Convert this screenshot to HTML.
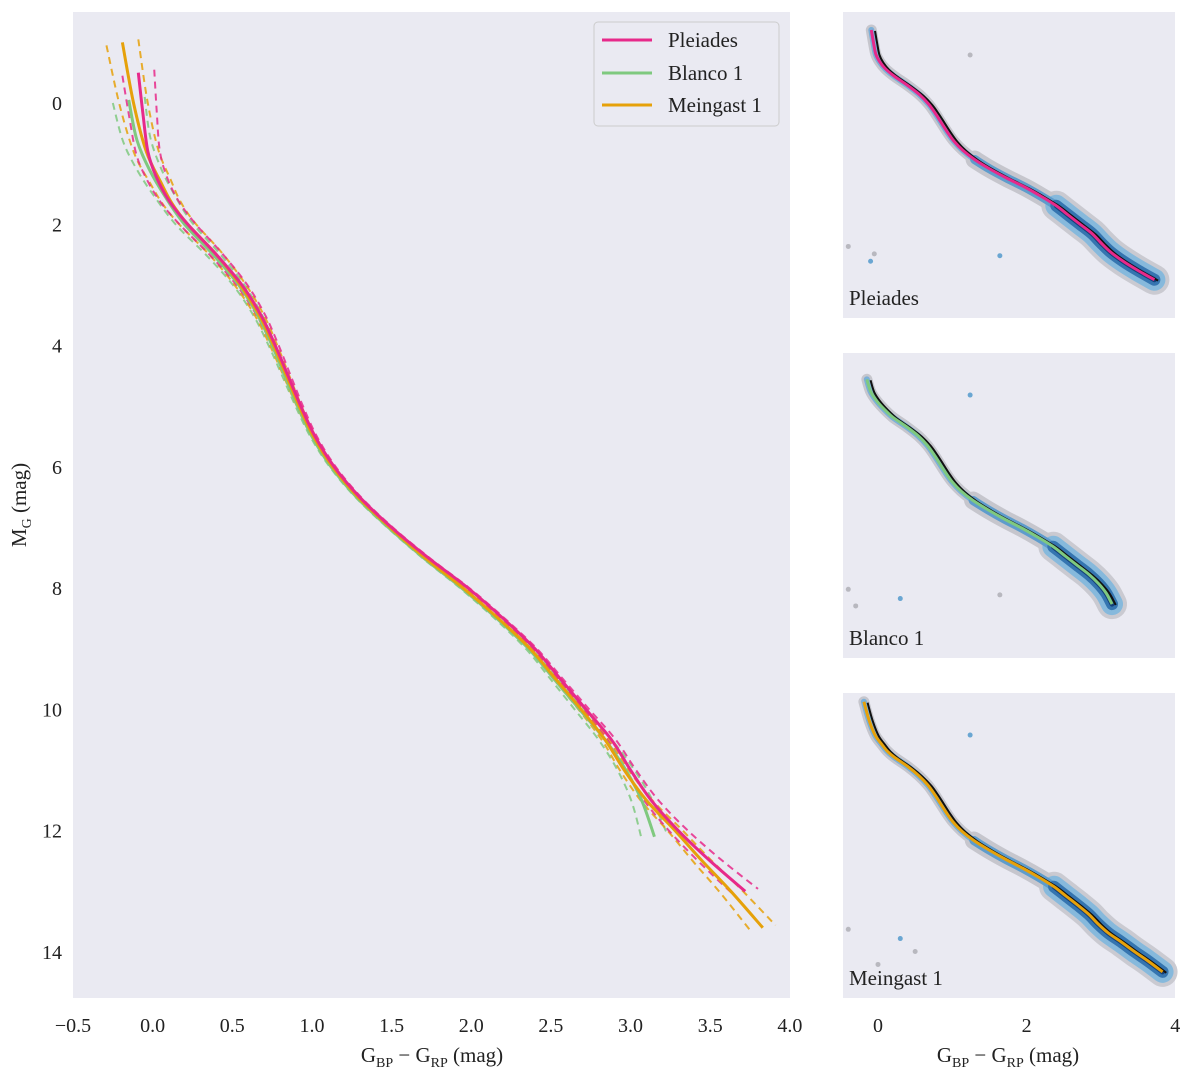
<!DOCTYPE html>
<html><head><meta charset="utf-8">
<style>
body{margin:0;background:#fff;font-family:"Liberation Serif",serif;}
svg text{font-family:"Liberation Serif",serif;fill:#222;}
</style></head>
<body>
<svg id="chart" width="1200" height="1076" xmlns="http://www.w3.org/2000/svg">
<rect width="1200" height="1076" fill="#fff"/>
<rect x="73" y="12" width="717" height="986" fill="#eaeaf2"/>
<rect x="843" y="12" width="332" height="306" fill="#eaeaf2"/>
<rect x="843" y="353" width="332" height="305" fill="#eaeaf2"/>
<rect x="843" y="693" width="332" height="305" fill="#eaeaf2"/>
<g id="main"></g><g id="panels"></g><g id="axes"></g>
<g>
<rect x="594" y="22" width="185" height="104" rx="4" fill="#eaeaf2" stroke="#ccc"/>
<line x1="602" y1="40" x2="652" y2="40" stroke="#e7298a" stroke-width="3"/>
<text x="668" y="47" font-size="21">Pleiades</text>
<line x1="602" y1="73" x2="652" y2="73" stroke="#7fc97f" stroke-width="3"/>
<text x="668" y="80" font-size="21">Blanco 1</text>
<line x1="602" y1="105" x2="652" y2="105" stroke="#e6a10a" stroke-width="3"/>
<text x="668" y="112" font-size="21">Meingast 1</text>
</g>
<text x="432" y="1062" font-size="21" text-anchor="middle">G<tspan font-size="14" dy="5">BP</tspan><tspan dy="-5"> − G</tspan><tspan font-size="14" dy="5">RP</tspan><tspan dy="-5"> (mag)</tspan></text>
<text x="1008" y="1062" font-size="21" text-anchor="middle">G<tspan font-size="14" dy="5">BP</tspan><tspan dy="-5"> − G</tspan><tspan font-size="14" dy="5">RP</tspan><tspan dy="-5"> (mag)</tspan></text>
<text transform="translate(26,505) rotate(-90)" font-size="21" text-anchor="middle">M<tspan font-size="14" dy="5">G</tspan><tspan dy="-5"> (mag)</tspan></text>
<text x="849" y="305" font-size="21">Pleiades</text>
<text x="849" y="645" font-size="21">Blanco 1</text>
<text x="849" y="985" font-size="21">Meingast 1</text>
</svg>
<script>
const xTicks=[-0.5,0,0.5,1,1.5,2,2.5,3,3.5,4];
const xTickLabels=["−0.5","0.0","0.5","1.0","1.5","2.0","2.5","3.0","3.5","4.0"];
const yTicks=[0,2,4,6,8,10,12,14];
const panelTicks=[0,2,4];
const seriesNames=["Blanco 1","Meingast 1","Pleiades"];
const pleiadesColor=[-0.09,-0.06,-0.03,0.02,0.1,0.22,0.4,0.56,0.68,0.77,0.85,0.93,1.02,1.14,1.3,1.5,1.73,1.98,2.2,2.4,2.56,2.72,2.88,3.0,3.13,3.3,3.5,3.72];
const pleiadesMag=[-0.5,0.2,0.8,1.2,1.6,2.0,2.5,3.0,3.5,4.0,4.5,5.0,5.5,6.0,6.5,7.0,7.5,8.0,8.5,9.0,9.5,10.0,10.5,11.0,11.5,12.0,12.5,13.0];
const meingastColor=[-0.19,-0.12,-0.04,0.05,0.12,0.22,0.4,0.55,0.67,0.76,0.84,0.92,1.01,1.13,1.29,1.49,1.71,1.95,2.17,2.37,2.53,2.69,2.84,2.96,3.1,3.28,3.45,3.63,3.83];
const meingastMag=[-1.0,0.0,0.8,1.3,1.65,2.0,2.5,3.0,3.5,4.0,4.5,5.0,5.5,6.0,6.5,7.0,7.5,8.0,8.5,9.0,9.5,10.0,10.5,11.0,11.5,12.0,12.5,13.0,13.6];
const blancoColor=[-0.15,-0.1,-0.02,0.08,0.2,0.38,0.54,0.66,0.75,0.83,0.91,1.0,1.12,1.28,1.48,1.7,1.94,2.16,2.36,2.52,2.68,2.84,2.97,3.07,3.15];
const blancoMag=[-0.05,0.6,1.1,1.55,2.0,2.5,3.0,3.5,4.0,4.5,5.0,5.5,6.0,6.5,7.0,7.5,8.0,8.5,9.0,9.5,10.0,10.5,11.0,11.5,12.1];
const outlierColor=[[-0.4,-0.1,-0.05,1.64,1.24],[-0.4,0.3,1.64,1.24,-0.3],[-0.4,0.3,0.0,1.24,0.5]];
const outlierMag=[[11.2,12.0,11.6,11.7,0.85],[11.3,11.8,11.6,0.8,12.2],[11.3,11.8,13.2,0.8,12.5]];

const NS="http://www.w3.org/2000/svg";
const X=v=>73+(v+0.5)*159.3, Y=v=>103+v*60.64;
function el(tag,attrs,parent){const e=document.createElementNS(NS,tag);for(const k in attrs)e.setAttribute(k,attrs[k]);parent.appendChild(e);return e;}
function smooth(pts){let d=`M${pts[0][0]},${pts[0][1]}`;for(let i=0;i<pts.length-1;i++){const p0=pts[i-1]||pts[i],p1=pts[i],p2=pts[i+1],p3=pts[i+2]||p2;
d+=` C${p1[0]+(p2[0]-p0[0])/6},${p1[1]+(p2[1]-p0[1])/6} ${p2[0]-(p3[0]-p1[0])/6},${p2[1]-(p3[1]-p1[1])/6} ${p2[0]},${p2[1]}`;}return d;}
const main=document.getElementById('main'),axes=document.getElementById('axes'),panels=document.getElementById('panels');
const series=[[blancoColor,blancoMag,"#7fc97f","blanco1"],[meingastColor,meingastMag,"#e6a10a","meingast1"],[pleiadesColor,pleiadesMag,"#e7298a","pleiades"]];
series.forEach(([c,m,col,n])=>{
  const n0=c.length;
  [-1,1].forEach(s=>{
    const pts=c.map((v,i)=>{const t=i/(n0-1);const w=0.1*Math.pow(1-t,4)+0.08*Math.pow(t,6);return [X(v+s*w),Y(m[i]-s*w*0.5)];});
    const p=el('path',{d:smooth(pts),fill:'none',stroke:col,'stroke-width':2,'stroke-dasharray':'7,5',opacity:0.85},main);
    
    
  });
});
series.forEach(([c,m,col,n])=>{
  const p=el('path',{d:smooth(c.map((v,i)=>[X(v),Y(m[i])])),fill:'none',stroke:col,'stroke-width':3},main);
  
  
});
xTicks.forEach((v,i)=>{const t=el('text',{x:X(v),y:1032,'font-size':20,'text-anchor':'middle'},axes);t.textContent=xTickLabels[i];

});
yTicks.forEach(v=>{const t=el('text',{x:62,y:Y(v)+7,'font-size':20,'text-anchor':'end'},axes);t.textContent=v;

});
panelTicks.forEach(v=>{const t=el('text',{x:878+v*74.3,y:1032,'font-size':20,'text-anchor':'middle'},axes);t.textContent=v;

});
const tops=[12,353,693];
const order=[2,0,1];
order.forEach((si,pi)=>{
  const [c,m,col,n]=series[si];const top=tops[pi];
  const PX=v=>878+v*74.3, PY=v=>top+18+(v+0.5)*18.5;
  const g=el('g',{},panels);
  
  
  const pts=c.map((v,i)=>[PX(v),PY(m[i])]);
  const d=smooth(pts);
  const red=c.map((v,i)=>[v,m[i]]).filter(p=>p[0]>2.3).map(p=>[PX(p[0]),PY(p[1])]);
  const dr=smooth(red);
  const mid=c.map((v,i)=>[v,m[i]]).filter(p=>p[0]>1.2).map(p=>[PX(p[0]),PY(p[1])]);
  const dm=smooth(mid);
  el('path',{d:d,fill:'none',stroke:'#c6c6cd','stroke-width':11,'stroke-linecap':'round'},g);
  el('path',{d:dm,fill:'none',stroke:'#c6c6cd','stroke-width':18,'stroke-linecap':'round'},g);
  el('path',{d:dr,fill:'none',stroke:'#c6c6cd','stroke-width':30,'stroke-linecap':'round',opacity:0.9},g);
  el('path',{d:dr,fill:'none',stroke:'#86b9dc','stroke-width':22,'stroke-linecap':'round'},g);
  el('path',{d:d,fill:'none',stroke:'#7ab0d8','stroke-width':6,'stroke-linecap':'round'},g);
  el('path',{d:dm,fill:'none',stroke:'#5e9ccc','stroke-width':9,'stroke-linecap':'round'},g);
  el('path',{d:dr,fill:'none',stroke:'#3575b0','stroke-width':12,'stroke-linecap':'round'},g);
  el('path',{d:dr,fill:'none',stroke:'#143f78','stroke-width':5,'stroke-linecap':'round'},g);
  outlierColor[pi].forEach((v,i)=>{const o=el('circle',{cx:PX(v),cy:PY(outlierMag[pi][i]),r:2.5,fill:i%2?'#6aa6d2':'#b8b8bf'},g);
    
    });
  const shift=c.map((v,i)=>[PX(v+0.05),PY(m[i]+0.05)]);
  const k=el('path',{d:smooth(shift),fill:'none',stroke:'#111','stroke-width':2},g);
  
  
  const s=el('path',{d:d,fill:'none',stroke:col,'stroke-width':3},g);
  
  
});
</script>
</body></html>
